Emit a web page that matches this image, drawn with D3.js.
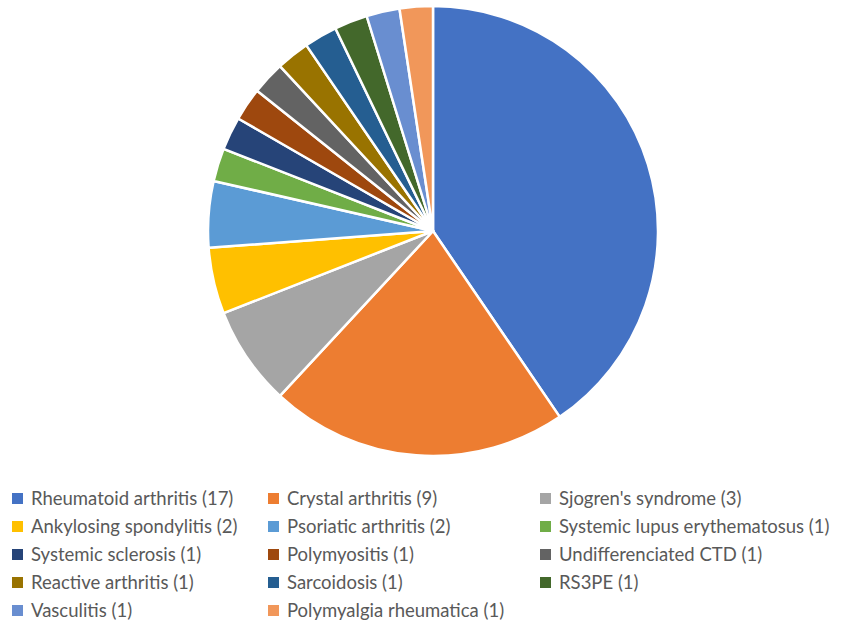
<!DOCTYPE html>
<html>
<head>
<meta charset="utf-8">
<script src="https://cdn.jsdelivr.net/npm/d3@7"></script>
<style>
  body { margin: 0; background: #fff; }
  svg { display: block; }
</style>
</head>
<body>
<script>
var categories = ['Rheumatoid arthritis', 'Crystal arthritis', "Sjogren's syndrome", 'Ankylosing spondylitis',
  'Psoriatic arthritis', 'Systemic lupus erythematosus', 'Systemic sclerosis', 'Polymyositis',
  'Undifferenciated CTD', 'Reactive arthritis', 'Sarcoidosis', 'RS3PE', 'Vasculitis', 'Polymyalgia rheumatica'];
var counts = [17, 9, 3, 2, 2, 1, 1, 1, 1, 1, 1, 1, 1, 1];
var colors = ['#4472C4', '#ED7D31', '#A5A5A5', '#FFC000', '#5B9BD5', '#70AD47', '#264478',
  '#9E480E', '#636363', '#997300', '#255E91', '#43682B', '#698ED0', '#F1975A'];

var data = categories.map(function(c, i) { return { label: c, value: counts[i], color: colors[i] }; });

var width = 853, height = 625;
var svg = d3.select('body').append('svg').attr('width', width).attr('height', height);

var cx = 433, cy = 231, r = 225;
var pie = d3.pie().value(function(d) { return d.value; }).sort(null);
var arc = d3.arc().innerRadius(0).outerRadius(r);

svg.append('g')
    .attr('transform', 'translate(' + cx + ',' + cy + ')')
    .selectAll('path')
    .data(pie(data))
    .enter()
    .append('path')
    .attr('d', arc)
    .attr('fill', function(d) { return d.data.color; })
    .attr('stroke', '#fff')
    .attr('stroke-width', 2.5)
    .attr('stroke-linejoin', 'round');

// legend: 3 columns, 5 rows
var colX = [12, 268, 540];
var rowY = d3.range(5).map(function(i) { return 499 + i * 28; });

var legend = svg.append('g')
    .selectAll('g')
    .data(data)
    .enter()
    .append('g')
    .attr('transform', function(d, i) {
        return 'translate(' + colX[i % 3] + ',' + rowY[Math.floor(i / 3)] + ')';
    });

legend.append('rect')
    .attr('x', 0).attr('y', -6)
    .attr('width', 11).attr('height', 11)
    .attr('fill', function(d) { return d.color; });

legend.append('text')
    .attr('x', 19).attr('y', 0)
    .attr('dy', '0.35em')
    .attr('font-family', 'Lato, Carlito, sans-serif')
    .attr('font-size', 18.5)
    .attr('fill', '#595959')
    .text(function(d) { return d.label + ' (' + d.value + ')'; });
</script>
</body>
</html>
